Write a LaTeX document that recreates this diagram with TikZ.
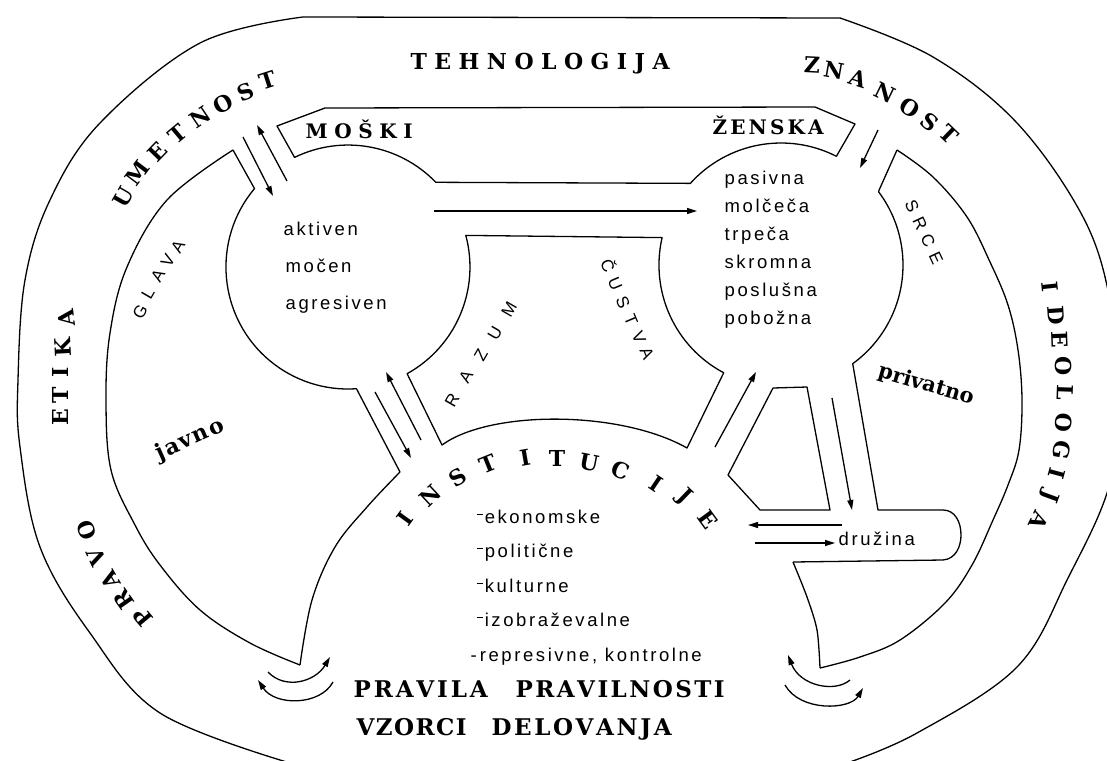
\documentclass[tikz,border=0pt]{standalone}
\usepackage{fontspec}
\setmainfont{DejaVu Serif}
\newfontfamily\sansf[LetterSpace=14]{Liberation Sans}
\newfontfamily\sansplain{Liberation Sans}
\usetikzlibrary{arrows.meta}
\newcommand\spr[2]{\makebox[#1][s]{#2}}
\newcommand\hy{\raisebox{0.42em}{\rule{0.32em}{0.09em}}\kern0.12em}
\begin{document}
\begin{tikzpicture}[x=1pt,y=-1pt,line width=1.3pt,line join=round,
  arr/.style={-{Triangle[length=10pt,width=6pt]}},
  ringl/.style={font=\bfseries\fontsize{22}{22}\selectfont, inner sep=0pt},
  sansl/.style={font=\sansplain\fontsize{17}{17}\selectfont, inner sep=0pt},
  word/.style={font=\sansf\fontsize{18.5}{18.5}\selectfont, inner sep=0pt, anchor=base west},
  capw/.style={font=\bfseries\fontsize{20}{20}\selectfont, inner sep=0pt, anchor=base west},
  bigw/.style={font=\bfseries\fontsize{23}{23}\selectfont, inner sep=0pt, anchor=base west}]
\fill[white] (0,0) rectangle (1107,760);
\useasboundingbox (0,0) rectangle (1107,760);
% outer oval
\begin{scope}
\clip (0,0) rectangle (1107,760);
\draw plot[smooth,tension=0.6] coordinates {(290,763) (160,713) (90,633) (40,547) (20,447) (18,380) (25,280) (50,200) (100,123) (200,43) (303,17)};
\draw (303,17) -- (840,18);
\draw plot[smooth,tension=0.6] coordinates {(840,18) (933,57) (1017,123) (1083,217) (1110,300) (1118,390) (1110,483) (1068,578) (1017,667) (917,733) (847,763)};
\end{scope}
% ring inner, left
\draw plot[smooth,tension=0.6] coordinates {(233,150) (167,200) (127,267) (110,333) (106,400) (111,470) (135,525) (160,565) (200,610) (250,643) (300,665)};
\draw (233,150) -- (254.5,188.6) arc[start angle=220, end angle=86, radius=122] -- (400,472);
\draw plot[smooth,tension=0.6] coordinates {(400,472) (367,507) (335,547) (312,600) (300,665)};
% band with the two circles
\draw (294.5,157.3) -- (277,126) -- (325,108) -- (815,107) -- (855,124) -- (836.4,156.3)
  arc[start angle=-63, end angle=-138, radius=122] -- (435.8,182.3)
  arc[start angle=-44, end angle=-116, radius=122] -- cycle;
% central region
\draw (465.8,235.4) -- (662.1,237.6) arc[start angle=193, end angle=118, radius=122] -- (687,448)
  .. controls (620,410) and (490,410) .. (442,445) -- (407.1,373.7)
  arc[start angle=61, end angle=-15, radius=122] -- cycle;
% privatno region
\draw (878.4,191.6) -- (897,150);
\draw plot[smooth,tension=0.6] coordinates {(897,150) (933,177) (967,217) (990,262) (1008,305) (1018,350) (1022,400) (1019,450) (1008,485) (993,520) (972,565) (945,603) (900,640) (860,657) (820,668)};
\draw plot[smooth] coordinates {(820,668) (817,630) (807,597) (793,562)};
\draw (793,562) -- (943,560) .. controls (956,559) and (961,546) .. (961,535)
  .. controls (961,522) and (955,510) .. (943,510) -- (878,510) -- (852.7,363.7)
  arc[start angle=54, end angle=-37, radius=122];
% pocket
\draw (773,388) -- (807,387) -- (830,510) -- (760,510) -- (728,475) -- cycle;
% arrows
\draw[arr] (243,137) -- (273,196);
\draw[arr] (287,181) -- (257,125);
\draw[arr] (878,130) -- (860,168);
\draw[arr] (434,211) -- (697,211);
\draw[arr] (375,392) -- (411,458);
\draw[arr] (421,440) -- (386,372);
\draw[arr] (715,447) -- (756,372);
\draw[arr] (832,398) -- (852,510);
\draw[arr] (842,525) -- (748,525);
\draw[arr] (755,543) -- (835,543);
\draw[arr] (268,672) .. controls (285,690) and (315,682) .. (330,657);
\draw[arr] (333,682) .. controls (320,706) and (275,706) .. (258,680);
\draw[arr] (850,680) .. controls (835,693) and (800,686) .. (788,655);
\draw[arr] (785,685) .. controls (800,712) and (850,710) .. (863,688);
% ring texts
\node[ringl, anchor=base west] at (410,70) {\spr{259pt}{T\hfill E\hfill H\hfill N\hfill O\hfill L\hfill O\hfill G\hfill I\hfill J\hfill A}};
\foreach \c/\x/\y/\r in {U/123/197/60, M/137/173/53, E/158/152/46, T/178/134/40, N/200/117/34, O/223/104/28, S/246/92/23, T/268/80/18}
  \node[ringl, rotate=\r] at (\x,\y) {\c};
\foreach \c/\x/\y/\r in {Z/812/65/-3, N/834/70/-10, A/858/79/-18, N/885/93/-26, O/910/108/-32, S/930/122/-38, T/949/134/-44}
  \node[ringl, rotate=\r] at (\x,\y) {\c};
\foreach \c/\x/\y/\r in {E/60/417/90, T/60/395/90, I/60/372/90, K/63/347/93, A/66/318/97}
  \node[ringl, rotate=\r] at (\x,\y) {\c};
\foreach \c/\x/\y/\r in {I/1050/287/-84, D/1056/315/-86, E/1060/340/-88, O/1063/366/-90, L/1065/393/-92, O/1064/423/-95, G/1062/450/-100, I/1057/474/-105, J/1049/496/-110, A/1039/521/-116}
  \node[ringl, rotate=\r] at (\x,\y) {\c};
\foreach \c/\x/\y/\r in {P/143/617/130, R/124/600/125, A/110/580/120, V/97/557/115, O/87/530/110}
  \node[ringl, rotate=\r] at (\x,\y) {\c};
\foreach \c/\x/\y/\r in {I/405/519/54, N/430/496/43, S/458/477/33, T/488/464/22, I/525/458/10, T/557/458/0, U/589/463/-11, C/621/470/-22, I/656/484/-34, J/684/497/-44, E/708/520/-54}
  \node[ringl, rotate=\r] at (\x,\y) {\c};
% sans rotated labels
\foreach \c/\x/\y in {G/140/312, L/148/293, A/158/276, V/168/261, A/178/247}
  \node[sansl, rotate=60] at (\x,\y) {\c};
\foreach \c/\x/\y in {S/912/206, R/920/224, C/928/241, E/936/258}
  \node[sansl, rotate=-65] at (\x,\y) {\c};
\foreach \c/\x/\y in {R/452/400, A/466/377, Z/481/355, U/495/333, M/509/309}
  \node[sansl, rotate=60] at (\x,\y) {\c};
\foreach \c/\x/\y in {Č/609/265, U/615/284, S/623/302, T/631/320, V/639/337, A/647/353}
  \node[sansl, rotate=-67] at (\x,\y) {\c};
% band words
\node[capw] at (305,138) {\spr{107pt}{M\hfill O\hfill Š\hfill K\hfill I}};
\node[capw] at (712,134) {\spr{111pt}{Ž\hfill E\hfill N\hfill S\hfill K\hfill A}};
% javno / privatno
\node[font=\bfseries\fontsize{22}{22}\selectfont\addfontfeature{LetterSpace=8}, rotate=24, inner sep=0pt] at (190,440) {javno};
\node[font=\bfseries\fontsize{21}{21}\selectfont, rotate=-16, inner sep=0pt] at (926,385) {privatno};
% word lists
\node[word] at (283,235) {aktiven};
\node[word] at (285,272) {močen};
\node[word] at (285,309) {agresiven};
\node[word] at (724,184) {pasivna};
\node[word] at (724,212) {molčeča};
\node[word] at (724,240) {trpeča};
\node[word] at (724,268) {skromna};
\node[word] at (724,296) {poslušna};
\node[word] at (724,324) {pobožna};
\node[word] at (476,523) {\hy ekonomske};
\node[word] at (476,557) {\hy politične};
\node[word] at (476,592) {\hy kulturne};
\node[word] at (476,626) {\hy izobraževalne};
\node[word] at (470,661) {-\kern3pt represivne, kontrolne};
\node[word] at (838,545) {družina};
% bottom words
\node[bigw] at (353,697) {\spr{134pt}{P\hfill R\hfill A\hfill V\hfill I\hfill L\hfill A}};
\node[bigw] at (515,697) {\spr{209pt}{P\hfill R\hfill A\hfill V\hfill I\hfill L\hfill N\hfill O\hfill S\hfill T\hfill I}};
\node[bigw] at (356,735) {\spr{110pt}{V\hfill Z\hfill O\hfill R\hfill C\hfill I}};
\node[bigw] at (491,735) {\spr{180pt}{D\hfill E\hfill L\hfill O\hfill V\hfill A\hfill N\hfill J\hfill A}};
\end{tikzpicture}
\end{document}
